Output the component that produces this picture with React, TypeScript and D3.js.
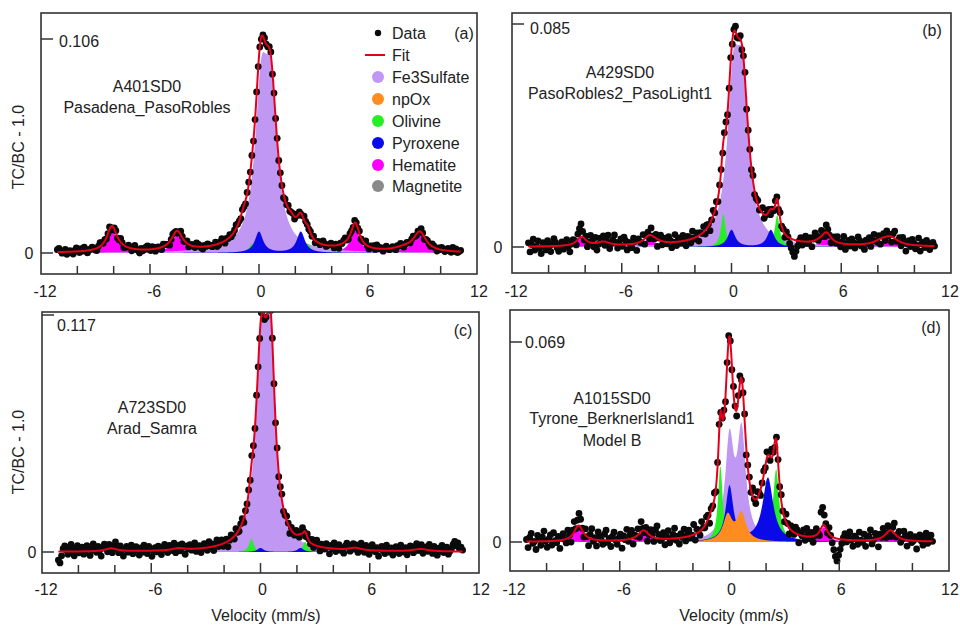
import React from "react";
import * as d3 from "d3";

// ---------- data ----------
const componentNames = ["Fe3Sulfate", "npOx", "Olivine", "Pyroxene", "Hematite", "Magnetite"];
const componentColors = ["#c097f2", "#ff8c1e", "#28ee28", "#0a0ae8", "#ff00ff", "#8a8a8a"];
const drawOrder = ["Magnetite", "Hematite", "Fe3Sulfate", "Olivine", "Pyroxene", "npOx"];

const xTickLabels = [-12, -6, 0, 6, 12];
const topTicks = [0.106, 0.085, 0.117, 0.069];
const panelLetters = ["(a)", "(b)", "(c)", "(d)"];
const sampleNames = [
  ["A401SD0", "Pasadena_PasoRobles"],
  ["A429SD0", "PasoRobles2_PasoLight1"],
  ["A723SD0", "Arad_Samra"],
  ["A1015SD0", "Tyrone_BerknerIsland1", "Model B"],
];

// Lorentzian lines: [component, centre (mm/s), half width, height]
const peaksA: [string, number, number, number][] = [
  ["Fe3Sulfate", 0.12, 0.42, 0.07], ["Fe3Sulfate", 0.65, 0.42, 0.068],
  ["Pyroxene", 0.0, 0.27, 0.0105], ["Pyroxene", 2.3, 0.27, 0.0105],
  ["Olivine", -0.38, 0.2, 0.0045], ["Olivine", 2.68, 0.2, 0.0045],
  ["Hematite", -8.1, 0.32, 0.0115], ["Hematite", -4.5, 0.35, 0.0085], ["Hematite", -0.85, 0.3, 0.004],
  ["Hematite", 1.75, 0.3, 0.004], ["Hematite", 5.3, 0.28, 0.0125], ["Hematite", 8.85, 0.42, 0.0095],
  ["Magnetite", -7.9, 0.7, 0.0015], ["Magnetite", -4.6, 0.7, 0.0012], ["Magnetite", -0.9, 0.6, 0.0008],
  ["Magnetite", 1.6, 0.6, 0.0008], ["Magnetite", 4.9, 0.7, 0.0014], ["Magnetite", 8.0, 0.7, 0.0016],
];
const peaksB: [string, number, number, number][] = [
  ["Fe3Sulfate", 0.1, 0.4, 0.054], ["Fe3Sulfate", 0.6, 0.4, 0.053],
  ["Pyroxene", 0.0, 0.25, 0.0065], ["Pyroxene", 2.15, 0.25, 0.0065],
  ["Olivine", -0.45, 0.15, 0.0125], ["Olivine", 2.5, 0.16, 0.012],
  ["Hematite", -8.2, 0.3, 0.0035], ["Hematite", -4.5, 0.35, 0.003], ["Hematite", -0.9, 0.3, 0.0012],
  ["Hematite", 1.7, 0.3, 0.0012], ["Hematite", 5.2, 0.3, 0.004], ["Hematite", 8.7, 0.5, 0.003],
  ["Magnetite", -7.0, 0.4, 0.0015], ["Magnetite", -4.2, 0.4, 0.001], ["Magnetite", 4.9, 0.4, 0.001],
  ["Magnetite", 8.2, 0.5, 0.0015],
];
const peaksC: [string, number, number, number][] = [
  ["Fe3Sulfate", 0.05, 0.38, 0.092], ["Fe3Sulfate", 0.55, 0.3, 0.086],
  ["Pyroxene", 0.0, 0.2, 0.002], ["Pyroxene", 2.2, 0.2, 0.002],
  ["Olivine", -0.5, 0.15, 0.0065], ["Olivine", 2.45, 0.15, 0.005],
  ["Hematite", -8.2, 0.4, 0.0015], ["Hematite", -4.5, 0.4, 0.001], ["Hematite", 5.2, 0.4, 0.0012],
  ["Hematite", 8.8, 0.5, 0.0012],
];
const peaksD: [string, number, number, number][] = [
  ["Fe3Sulfate", 0.0, 0.28, 0.0336], ["Fe3Sulfate", 0.66, 0.28, 0.036],
  ["npOx", -0.1, 0.3, 0.0088], ["npOx", 0.65, 0.3, 0.0095],
  ["Pyroxene", 0.0, 0.25, 0.019], ["Pyroxene", 2.1, 0.35, 0.022],
  ["Olivine", -0.5, 0.15, 0.026], ["Olivine", 2.55, 0.2, 0.025],
  ["Hematite", -8.25, 0.3, 0.0055], ["Hematite", -4.7, 0.35, 0.0035], ["Hematite", -1.0, 0.3, 0.0025],
  ["Hematite", 1.7, 0.3, 0.0025], ["Hematite", 5.15, 0.25, 0.005], ["Hematite", 8.8, 0.35, 0.0038],
];

// channel velocities (256 folded channels)
const channelCount = 256;
const velocityMin = -11.1;
const velocityMax = 11.1;

// data scatter about the fit, in counts of noiseUnit
const noiseUnit = [0.0006, 0.0007, 0.0007, 0.0007];
const residA = [
  2,3,1,-1,0,2,-2,-1,1,0,-2,1,3,0,-1,2,0,3,1,-2,0,1,2,1,-1,-2,1,3,2,0,1,-1,
  0,2,-1,-3,1,2,-1,0,3,1,-2,-1,0,2,1,-2,1,3,0,-1,-3,1,-1,0,2,3,0,-1,2,0,-2,1,
  1,-1,-2,2,1,0,-1,-3,0,2,1,0,-2,0,3,1,-1,0,2,-2,-1,1,0,-1,3,2,1,-1,-2,1,0,2,
  1,0,-1,0,2,-2,-1,1,3,0,-2,1,0,2,-1,0,1,3,1,0,-2,1,-1,-3,1,2,0,1,-1,0,2,1,
  0,-2,1,2,0,-1,1,3,-2,1,0,2,-1,1,0,-3,1,0,2,-1,0,1,-2,2,0,1,-1,0,3,1,0,-1,
  1,0,2,-2,0,1,-1,0,3,1,-1,0,1,2,0,-2,1,0,-3,1,0,2,3,0,-1,1,0,-1,2,1,0,2,
  -1,0,1,3,0,-2,1,0,2,-1,3,0,1,0,-2,1,2,0,-1,0,1,0,-2,1,0,2,1,-2,0,1,0,-1,
  1,2,0,-1,1,0,3,1,-2,0,1,0,-1,2,1,0,-2,1,0,2,1,-1,0,2,0,-1,3,0,2,-1,0,1,
];
const residB = [
  2,-3,1,4,-2,0,3,-1,-4,2,1,-2,3,0,-3,1,4,2,-1,-3,0,2,-2,1,3,-1,-4,0,2,1,-2,3,
  5,7,3,-1,2,-3,0,4,1,-2,3,-4,-1,2,0,3,-2,1,4,-3,0,2,5,1,-2,0,3,-1,4,2,-3,1,
  0,-2,3,1,-4,2,0,-1,3,-3,1,2,-2,4,0,-1,2,-4,1,3,-2,0,2,-1,3,1,-3,0,4,-2,1,2,
  -1,3,0,-3,2,1,-2,4,0,-1,2,-3,1,0,3,-2,2,1,-4,0,3,-1,2,-2,1,0,-3,2,4,-1,0,2,
  -2,1,3,-1,0,2,-3,1,4,-2,0,1,-1,3,-2,0,2,-1,1,3,-2,0,2,1,-3,0,-1,2,1,-2,3,0,
  1,-2,2,0,-3,-5,-7,-9,-6,-3,0,2,-2,1,3,-1,0,2,-3,1,4,2,-1,0,3,1,-2,4,2,0,-3,1,
  2,-1,3,0,-2,1,4,-3,0,2,-1,3,1,-2,0,4,2,-1,1,-3,2,0,3,-2,1,4,0,-1,2,-3,1,2,
  -2,3,0,1,-3,2,4,-1,0,2,-2,3,1,-4,0,2,-1,3,1,-2,0,4,-3,1,2,-1,3,0,-2,1,2,0,
];
const residC = [
  -6,-8,-3,2,4,1,-2,3,5,0,-3,2,4,-1,1,3,-2,0,4,2,-3,1,5,2,-1,3,0,-4,2,4,1,-2,
  3,0,-3,2,5,1,-2,3,0,-4,1,3,-1,2,4,-2,0,3,1,-3,2,-1,4,0,-2,3,1,-4,0,2,-1,3,
  1,-3,2,4,0,-2,3,1,-1,4,-3,0,2,-2,3,1,-4,2,0,3,-1,1,4,-2,0,2,-3,1,3,0,-2,4,
  0,2,-3,1,4,-1,0,3,-2,1,2,-4,0,3,1,-2,4,0,-1,2,3,-3,1,0,2,-2,4,1,-1,3,0,-2,
  2,1,-3,0,4,-2,1,3,0,-1,2,-3,1,4,-2,0,3,1,-4,2,0,-1,3,2,-2,1,4,0,-3,2,1,-1,
  3,-2,0,4,1,-3,2,0,-1,3,1,-4,2,0,4,-2,1,3,-1,0,-3,2,4,1,-2,0,3,-1,2,-3,1,4,
  0,-2,3,1,-3,2,4,0,-1,2,-4,1,3,0,-2,4,1,-1,2,-3,0,3,1,-2,4,0,-1,2,-3,1,3,0,
  -2,2,4,-1,0,3,-3,1,2,-1,4,0,-2,3,1,-3,2,0,4,-1,1,3,-2,0,2,5,7,4,6,2,3,1,
];
const residD = [
  1,-3,2,4,-1,0,-4,3,1,-2,2,5,0,-3,1,3,-2,4,0,-1,2,-4,1,3,0,-2,4,1,-3,2,5,0,
  3,6,4,1,-2,3,0,-4,2,5,-1,1,-3,4,2,0,-2,3,5,-1,1,-3,2,4,0,-2,1,3,-4,2,0,5,
  -1,2,4,-3,1,0,3,-2,5,1,-1,2,-4,0,3,1,-2,4,6,2,-1,0,3,-3,1,4,-2,0,2,5,-1,1,
  -3,2,0,4,-2,1,3,-1,0,5,-3,2,1,-2,4,0,-1,3,2,-4,1,0,3,-2,2,4,-1,0,3,-3,1,2,
  0,-2,3,1,-3,2,4,-1,0,3,-4,1,2,-1,4,0,-2,3,1,-3,0,2,-1,3,1,-2,4,0,-3,2,1,-1,
  3,0,-2,4,1,-3,2,0,-1,3,2,-4,1,0,3,-2,4,1,-1,2,-3,0,3,1,-2,8,9,5,2,-1,3,0,
  -3,-6,-9,-11,-8,-5,-2,1,3,-1,2,4,0,-3,2,1,-2,4,0,-1,3,-3,1,2,5,-2,0,3,1,-4,2,0,
  4,1,-2,3,0,-3,2,5,-1,1,3,-2,0,4,2,-3,1,3,-1,0,2,-4,1,3,0,-2,2,4,-1,1,3,0,
];

// ---------- layout ----------
const FONT = "'Liberation Sans', Arial, Helvetica, sans-serif";
const layouts = [
  { box: [41, 13, 477, 274], zeroPx: 253, tickPx: 39, topLabel: [59, 41], zeroLabel: [29, 253],
    names: [147, [86, 107]], letter: [464, 33], xLabelY: 291 },
  { box: [512, 13, 951, 273], zeroPx: 247, tickPx: 24, topLabel: [530, 28], zeroLabel: [498, 247],
    names: [620, [72, 93]], letter: [932, 30], xLabelY: 291 },
  { box: [42, 312, 479, 573], zeroPx: 552, tickPx: 315, topLabel: [57, 325], zeroLabel: [32, 552],
    names: [152, [407, 428]], letter: [463, 330], xLabelY: 589 },
  { box: [510, 310, 949, 571], zeroPx: 542, tickPx: 342, topLabel: [525, 342], zeroLabel: [497, 542],
    names: [612, [398, 418, 440]], letter: [931, 327], xLabelY: 589 },
];
const allPeaks = [peaksA, peaksB, peaksC, peaksD];
const allResid = [residA, residB, residC, residD];

const lor = (v: number, c: number, g: number, h: number) => h / (1 + ((v - c) / g) ** 2);

function Panel({ idx }: { idx: number }) {
  const L = layouts[idx];
  const peaks = allPeaks[idx];
  const resid = allResid[idx];
  const [bx0, by0, bx1, by1] = L.box;
  const x = d3.scaleLinear().domain([-12, 12]).range([bx0, bx1]);
  const y = d3.scaleLinear().domain([0, topTicks[idx]]).range([L.zeroPx, L.tickPx]);

  const grid = d3.range(velocityMin, velocityMax + 1e-9, 0.01);
  const compVal = (name: string, v: number) =>
    peaks.filter((p) => p[0] === name).reduce((s, p) => s + lor(v, p[1], p[2], p[3]), 0);
  const fitVal = (v: number) => peaks.reduce((s, p) => s + lor(v, p[1], p[2], p[3]), 0);

  const area = d3.area<number>().x((v) => x(v)).y0(y(0));
  const line = d3.line<number>().x((v) => x(v)).y((v) => y(fitVal(v)));

  const channels = d3.range(channelCount).map((i) => velocityMin + (i * (velocityMax - velocityMin)) / (channelCount - 1));
  const clipId = `clip${idx}`;

  return (
    <g>
      <defs>
        <clipPath id={clipId}>
          <rect x={bx0} y={by0} width={bx1 - bx0} height={by1 - by0} />
        </clipPath>
      </defs>
      <g clipPath={`url(#${clipId})`}>
        {drawOrder.map((name) => {
          if (!peaks.some((p) => p[0] === name)) return null;
          const col = componentColors[componentNames.indexOf(name)];
          const a = area.y1((v) => y(compVal(name, v)));
          return <path key={name} d={a(grid) || ""} fill={col} stroke="none" />;
        })}
        {channels.map((v, i) => (
          <circle key={i} cx={x(v)} cy={y(fitVal(v) + (resid[i] ?? 0) * noiseUnit[idx])} r={3.4} fill="#0a0a0a" />
        ))}
        <path d={line(grid) || ""} fill="none" stroke="#e3001a" strokeWidth={2} />
      </g>
      {/* box */}
      <rect x={bx0} y={by0} width={bx1 - bx0} height={by1 - by0} fill="none" stroke="#333" strokeWidth={1.6} />
      {/* x ticks, inside */}
      {d3.range(-10, 11, 2).map((t) => (
        <line key={t} x1={x(t)} x2={x(t)} y1={by1} y2={by1 - (t % 6 === 0 ? 10 : 8)} stroke="#333" strokeWidth={1.5} />
      ))}
      {xTickLabels.map((t) => (
        <text key={t} x={Math.min(x(t) + (t < 0 ? 4 : 2), 950)} y={L.xLabelY} dy="0.35em" textAnchor="middle" fontSize={16} fontFamily={FONT} fill="#222">
          {t}
        </text>
      ))}
      {/* y ticks, inside */}
      <line x1={bx0} x2={bx0 + 12} y1={y(0)} y2={y(0)} stroke="#333" strokeWidth={1.5} />
      <line x1={bx0} x2={bx0 + 12} y1={y(topTicks[idx])} y2={y(topTicks[idx])} stroke="#333" strokeWidth={1.5} />
      <text x={L.zeroLabel[0]} y={L.zeroLabel[1]} dy="0.35em" textAnchor="middle" fontSize={16} fontFamily={FONT} fill="#222">0</text>
      <text x={L.topLabel[0]} y={L.topLabel[1]} dy="0.35em" textAnchor="start" fontSize={16} fontFamily={FONT} fill="#222">
        {String(topTicks[idx])}
      </text>
      {/* labels */}
      <text x={L.letter[0]} y={L.letter[1]} dy="0.35em" textAnchor="middle" fontSize={16} fontFamily={FONT} fill="#222">
        {panelLetters[idx]}
      </text>
      {sampleNames[idx].map((s, i) => (
        <text key={i} x={L.names[0] as number} y={(L.names[1] as number[])[i]} dy="0.35em" textAnchor="middle" fontSize={16} fontFamily={FONT} fill="#222">
          {s}
        </text>
      ))}
    </g>
  );
}

function Legend() {
  const x0 = 378;
  const rows = [33, 55, 77, 99, 121, 143, 165, 186];
  return (
    <g fontFamily={FONT} fontSize={16} fill="#222">
      <circle cx={x0} cy={rows[0]} r={3.2} fill="#0a0a0a" />
      <text x={392} y={rows[0]} dy="0.35em">Data</text>
      <line x1={365} x2={385} y1={rows[1]} y2={rows[1]} stroke="#e3001a" strokeWidth={2} />
      <text x={392} y={rows[1]} dy="0.35em">Fit</text>
      {componentNames.map((n, i) => (
        <g key={n}>
          <circle cx={x0} cy={rows[i + 2]} r={6} fill={componentColors[i]} />
          <text x={392} y={rows[i + 2]} dy="0.35em">{n}</text>
        </g>
      ))}
    </g>
  );
}

export default function App() {
  return (
    <svg width={960} height={625} style={{ position: "absolute", left: 0, top: 0, background: "#fff" }}>
      <rect x={0} y={0} width={960} height={625} fill="#fff" />
      {[0, 1, 2, 3].map((i) => (
        <Panel key={i} idx={i} />
      ))}
      <Legend />
      <text transform="translate(18,147) rotate(-90)" dy="0.35em" textAnchor="middle" fontSize={16} fontFamily={FONT} fill="#222">TC/BC - 1.0</text>
      <text transform="translate(18,452) rotate(-90)" dy="0.35em" textAnchor="middle" fontSize={16} fontFamily={FONT} fill="#222">TC/BC - 1.0</text>
      <text x={266} y={615} dy="0.35em" textAnchor="middle" fontSize={16} fontFamily={FONT} fill="#222">Velocity (mm/s)</text>
      <text x={734} y={615} dy="0.35em" textAnchor="middle" fontSize={16} fontFamily={FONT} fill="#222">Velocity (mm/s)</text>
    </svg>
  );
}
